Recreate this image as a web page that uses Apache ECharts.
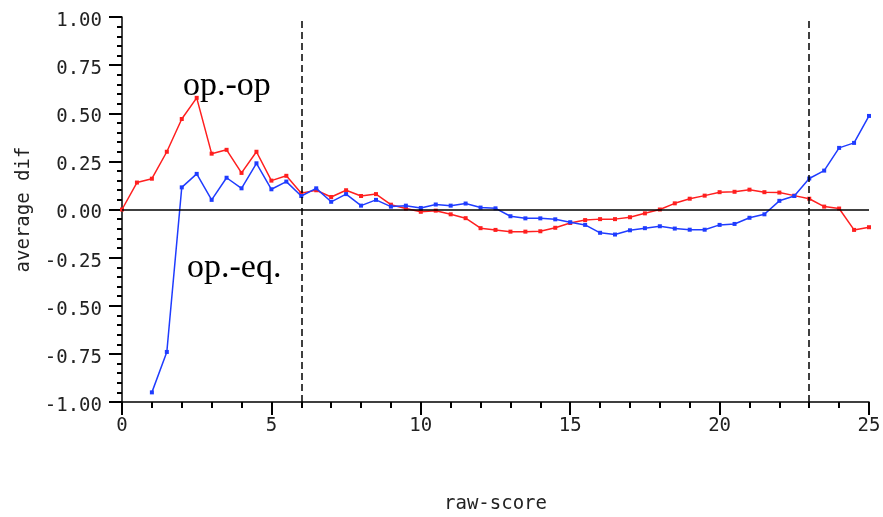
<!DOCTYPE html>
<html>
<head>
<meta charset="utf-8">
<title>average dif vs raw-score</title>
<script src="https://cdn.jsdelivr.net/npm/echarts@6/dist/echarts.min.js"></script>
<style>
  html, body { margin: 0; padding: 0; background: #fff; }
  #chart { width: 883px; height: 517px; }
</style>
</head>
<body>
<div id="chart"></div>
<script>
// raw-score positions (half-point steps)
const rawScore = [
  0, 0.5, 1, 1.5, 2, 2.5, 3, 3.5, 4, 4.5,
  5, 5.5, 6, 6.5, 7, 7.5, 8, 8.5, 9, 9.5,
  10, 10.5, 11, 11.5, 12, 12.5, 13, 13.5, 14, 14.5,
  15, 15.5, 16, 16.5, 17, 17.5, 18, 18.5, 19, 19.5,
  20, 20.5, 21, 21.5, 22, 22.5, 23, 23.5, 24, 24.5, 25
];

// op.-op average difference, one value per rawScore entry
const opOp = [
  0.00, 0.14, 0.16, 0.30, 0.47, 0.58, 0.29, 0.31, 0.19, 0.30,
  0.15, 0.175, 0.085, 0.10, 0.065, 0.10, 0.07, 0.08, 0.025, 0.005,
  -0.012, -0.006, -0.025, -0.045, -0.097, -0.106, -0.115, -0.115, -0.113, -0.095,
  -0.07, -0.055, -0.05, -0.05, -0.04, -0.02, 0.00, 0.032, 0.056, 0.072,
  0.09, 0.092, 0.103, 0.09, 0.088, 0.072, 0.056, 0.015, 0.005, -0.106, -0.092
];

// op.-eq. average difference, starting at raw-score 1
const opEq = [
  null, null,
  -0.95, -0.74, 0.115, 0.185, 0.05, 0.165, 0.11, 0.24,
  0.105, 0.145, 0.07, 0.11, 0.04, 0.08, 0.02, 0.05, 0.015, 0.02,
  0.008, 0.026, 0.02, 0.031, 0.01, 0.006, -0.035, -0.046, -0.046, -0.051,
  -0.066, -0.08, -0.121, -0.13, -0.108, -0.097, -0.087, -0.099, -0.105, -0.105,
  -0.08, -0.075, -0.043, -0.025, 0.045, 0.07, 0.161, 0.202, 0.32, 0.346, 0.486
];

// reference positions on the raw-score axis
const cutScores = [6, 23];

function axisFont() {
  return { fontFamily: 'DejaVu Sans Mono', fontSize: 19, color: '#222' };
}

function pairs(ys) {
  return rawScore.map((x, i) => [x, ys[i]]);
}

// tick-only companion axis (no line, no labels, no name), kept on the grid edge
function tickAxis(extra) {
  return Object.assign({
    type: 'value',
    offset: 0,
    axisLine: { show: false, onZero: false },
    axisLabel: { show: false },
    splitLine: { show: false },
    axisTick: { show: true, length: 13, lineStyle: { color: '#000', width: 2 } },
    minorTick: { show: true, splitNumber: 5, length: 6, lineStyle: { color: '#000', width: 2 } }
  }, extra);
}

const chart = echarts.init(document.getElementById('chart'), null, { renderer: 'canvas' });

chart.setOption({
  backgroundColor: '#fff',
  animation: false,
  grid: { left: 122, right: 14, top: 17, bottom: 115, outerBoundsMode: 'none' },
  xAxis: [
    {
      type: 'value',
      min: 0, max: 25, interval: 5,
      position: 'bottom',
      name: 'raw-score',
      nameLocation: 'middle',
      nameGap: 93,
      nameTextStyle: axisFont(),
      axisLine: { show: true, onZero: false, lineStyle: { color: '#000', width: 1.5 } },
      axisTick: { show: true, length: 13, lineStyle: { color: '#000', width: 2 } },
      minorTick: { show: true, splitNumber: 5, length: 6, lineStyle: { color: '#000', width: 2 } },
      axisLabel: Object.assign({ margin: 15 }, axisFont()),
      splitLine: { show: false }
    },
    tickAxis({ min: 0, max: 25, interval: 5, position: 'bottom' })
  ],
  yAxis: [
    {
      type: 'value',
      min: -1, max: 1, interval: 0.25,
      position: 'left',
      name: 'average dif',
      nameLocation: 'middle',
      nameGap: 87,
      nameTextStyle: axisFont(),
      axisLine: { show: true, onZero: false, lineStyle: { color: '#000', width: 1.5 } },
      axisTick: { show: true, length: 13, lineStyle: { color: '#000', width: 2 } },
      minorTick: { show: true, splitNumber: 5, length: 5, lineStyle: { color: '#000', width: 2 } },
      axisLabel: Object.assign({
        margin: 20,
        verticalAlign: 'top',
        lineHeight: 8,
        formatter: v => v.toFixed(2)
      }, axisFont()),
      splitLine: { show: false }
    },
    tickAxis({ min: -1, max: 1, interval: 0.25, position: 'left',
      minorTick: { show: true, splitNumber: 5, length: 5, lineStyle: { color: '#000', width: 2 } } })
  ],
  series: [
    {
      name: 'op.-op',
      type: 'line',
      xAxisIndex: 0,
      yAxisIndex: 0,
      data: pairs(opOp),
      symbol: 'rect',
      symbolSize: 4,
      showAllSymbol: true,
      lineStyle: { color: '#ff1f1f', width: 1.5 },
      itemStyle: { color: '#ff1f1f' },
      z: 3,
      markLine: {
        silent: true,
        symbol: 'none',
        label: { show: false },
        data: [
          { yAxis: 0, lineStyle: { color: '#000', width: 1.5, type: 'solid' } }
        ].concat(cutScores.map(c => ({
          xAxis: c,
          lineStyle: { color: '#000', width: 1.5, type: [7, 4] }
        })))
      }
    },
    {
      name: 'op.-eq.',
      type: 'line',
      xAxisIndex: 0,
      yAxisIndex: 0,
      data: pairs(opEq),
      connectNulls: false,
      symbol: 'rect',
      symbolSize: 4,
      showAllSymbol: true,
      lineStyle: { color: '#1f3cff', width: 1.5 },
      itemStyle: { color: '#1f3cff' },
      z: 4
    }
  ],
  graphic: [
    {
      type: 'text',
      left: 183, top: 69,
      style: { text: 'op.-op', fontFamily: 'Liberation Serif', fontSize: 34, fill: '#000' }
    },
    {
      type: 'text',
      left: 187, top: 251,
      style: { text: 'op.-eq.', fontFamily: 'Liberation Serif', fontSize: 34, fill: '#000' }
    }
  ]
});
</script>
</body>
</html>
